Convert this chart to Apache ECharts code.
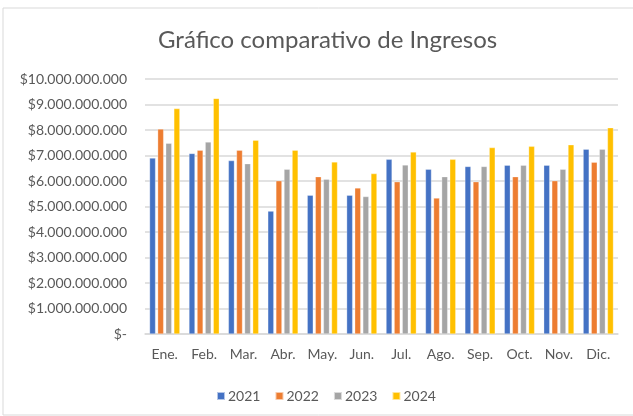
<!DOCTYPE html>
<html><head><meta charset="utf-8">
<script src="https://cdn.jsdelivr.net/npm/echarts@6/dist/echarts.min.js"></script>
<style>html,body{margin:0;padding:0;background:#fff}#c{width:633px;height:416px}</style>
</head><body><div id="c"></div>
<script>
const months = ['Ene.','Feb.','Mar.','Abr.','May.','Jun.','Jul.','Ago.','Sep.','Oct.','Nov.','Dic.'];
const s2021 = [6900000000,7080000000,6800000000,4820000000,5440000000,5440000000,6850000000,6460000000,6570000000,6620000000,6620000000,7250000000];
const s2022 = [8040000000,7210000000,7210000000,6010000000,6170000000,5730000000,5970000000,5330000000,5970000000,6170000000,6010000000,6740000000];
const s2023 = [7480000000,7530000000,6680000000,6460000000,6070000000,5390000000,6630000000,6170000000,6570000000,6620000000,6460000000,7250000000];
const s2024 = [8840000000,9240000000,7600000000,7210000000,6750000000,6290000000,7140000000,6850000000,7310000000,7360000000,7420000000,8090000000];
const yearNames = ['2021','2022','2023','2024'];
const colors = ['#4472C4','#ED7D31','#A5A5A5','#FFC000'];

function fmt(v){
  if (v === 0) return '$-';
  return '$' + String(Math.round(v)).replace(/\B(?=(\d{3})+(?!\d))/g, '.');
}
const font = 'Lato, "Open Sans", sans-serif';
const chart = echarts.init(document.getElementById('c'), null, {renderer:'canvas'});
const data = [s2021, s2022, s2023, s2024];
chart.setOption({
  animation:false,
  color: colors,
  graphic:[{type:'rect', shape:{x:3,y:8,width:640,height:407}, style:{fill:'none', stroke:'#d9d9d9', lineWidth:1}, silent:true}],
  title:{text:'Gráfico comparativo de Ingresos', left:153, top:23,
    textStyle:{fontFamily:font, fontSize:24, fontWeight:'normal', color:'#595959'}},
  legend:{bottom:8, left:211, itemWidth:8, itemHeight:8, itemGap:14, icon:'rect',
    textStyle:{fontFamily:font, fontSize:14, color:'#595959', padding:[0,0,0,-2]}, data: yearNames},
  grid:{left:145, right:15, top:79, bottom:82, containLabel:false},
  xAxis:{type:'category', data: months,
    axisLine:{lineStyle:{color:'#d9d9d9', width:1.5}}, axisTick:{show:false},
    axisLabel:{fontFamily:font, fontSize:14, color:'#595959', margin:13}},
  yAxis:{type:'value', min:0, max:10000000000, interval:1000000000,
    axisLine:{show:false}, axisTick:{show:false},
    splitLine:{lineStyle:{color:'#d9d9d9', width:1.5}},
    axisLabel:{fontFamily:font, fontSize:14, color:'#595959', margin:18, formatter: fmt}},
  series: yearNames.map((n,i)=>({
    name:n, type:'bar', data:data[i], barWidth:6, barGap:'35%',
    itemStyle:{color:colors[i], borderColor:'rgba(255,255,255,0.6)', borderWidth:0.5}
  }))
});
</script></body></html>
